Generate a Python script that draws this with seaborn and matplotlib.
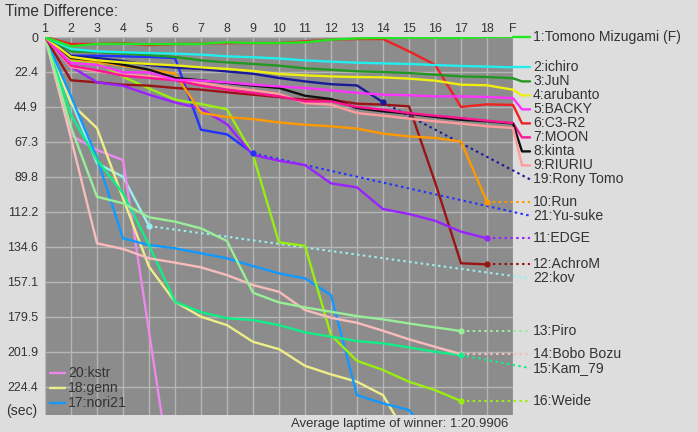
import matplotlib
matplotlib.use("Agg")
import matplotlib.pyplot as plt
from matplotlib.lines import Line2D
import pandas as pd
import seaborn as sns

# ---------------- data ----------------
lap_labels = [str(i) for i in range(1, 19)] + ["F"]
ytick_labels = ["0", "22.4", "44.9", "67.3", "89.8", "112.2", "134.6",
                "157.1", "179.5", "201.9", "224.4"]
ytick_step = 22.438
y_max = 242.56

names = {
    1: "Tomono Mizugami (F)", 2: "ichiro", 3: "JuN", 4: "arubanto", 5: "BACKY",
    6: "C3-R2", 7: "MOON", 8: "kinta", 9: "RIURIU", 10: "Run", 11: "EDGE",
    12: "AchroM", 13: "Piro", 14: "Bobo Bozu", 15: "Kam_79", 16: "Weide",
    17: "nori21", 18: "genn", 19: "Rony Tomo", 20: "kstr", 21: "Yu-suke", 22: "kov",
}
colors = {
    1: "#22e622", 2: "#22eeee", 3: "#229922", 4: "#eeee11", 5: "#ff33ff",
    6: "#ee2222", 7: "#ff1493", 8: "#111111", 9: "#ff9c9c", 10: "#ff9900",
    11: "#9922ff", 12: "#991515", 13: "#99ee99", 14: "#f8bcbc", 15: "#11ee88",
    16: "#99ee11", 17: "#1199ff", 18: "#eeee88", 19: "#1a1a99", 20: "#ee88ee",
    21: "#2233ff", 22: "#99eeee",
}

d1 = [0, 6.0, 4.5, 4.3, 4.6, 4.5, 4.4, 3.4, 3.9, 3.9, 3.4, 1.7, 0.9, 0.6, 0.4, 0.4, 0.6, 0.1, 0]
d2 = [0, 7.7, 9.2, 9.8, 10.3, 10.7, 11.3, 12.4, 13.0, 13.8, 15.0, 15.8, 16.5, 16.9, 17.3, 18.0, 18.6, 19.0, 19.5]
d3 = [0, 9.2, 9.8, 10.7, 11.6, 12.8, 15.0, 16.3, 17.3, 18.4, 20.1, 21.0, 22.0, 22.5, 23.1, 24.2, 25.3, 25.7, 26.5]
d4 = [0, 12.8, 15.0, 16.3, 17.3, 18.2, 19.5, 20.5, 21.8, 23.7, 24.6, 25.3, 25.7, 25.9, 26.7, 28.0, 30.6, 31.0, 33.8]
d5 = [0, 16.7, 17.8, 22.7, 22.7, 27.4, 28.0, 29.1, 30.6, 31.7, 32.7, 34.2, 35.9, 37.0, 37.4, 38.1, 38.1, 38.5, 39.2]
d6 = [0, 4.5, 4.5, 3.9, 5.3, 4.5, 4.3, 3.9, 3.9, 3.9, 2.8, 1.7, 1.3, 1.3, 9.2, 17.8, 44.9, 43.2, 43.6]
d7 = [0, 18.4, 21.4, 24.8, 26.3, 27.8, 31.2, 33.8, 35.9, 38.1, 41.3, 41.3, 44.9, 46.6, 48.8, 50.5, 52.0, 53.7, 55.2]
d8 = [0, 13.5, 15.0, 17.8, 21.0, 26.3, 27.8, 29.5, 31.2, 32.7, 37.7, 39.8, 45.6, 47.7, 49.2, 51.3, 53.1, 54.1, 55.5]
d9 = [0, 19.3, 22.0, 24.2, 25.2, 27.0, 29.5, 32.1, 34.2, 36.5, 42.4, 43.4, 48.8, 50.5, 52.4, 54.1, 55.6, 57.3, 58.4]
d10 = [0, 14.0, 16.0, 18.5, 21.2, 23.4, 48.7, 51.4, 52.7, 54.8, 56.3, 57.3, 58.8, 62.0, 63.8, 64.8, 67.1, 105.7]
d11 = [0, 19.0, 29.1, 31.3, 37.0, 42.0, 46.0, 56.0, 75.7, 79.4, 82.2, 93.9, 96.5, 110.4, 113.6, 117.9, 124.9, 129.2]
d12 = [0, 27.8, 29.1, 30.6, 31.2, 32.7, 33.8, 35.5, 37.0, 38.6, 40.2, 40.2, 42.8, 43.4, 44.5, 93.0, 145.2, 145.9]
d13 = [0, 58.0, 102.5, 106.7, 115.7, 118.5, 122.8, 130.9, 164.1, 170.3, 173.5, 176.3, 179.1, 181.2, 183.8, 186.3, 188.7]
d14 = [0, 65.0, 132.4, 136.0, 142.0, 144.8, 147.8, 152.8, 159.2, 163.5, 175.2, 180.2, 183.4, 188.5, 194.0, 198.8, 203.5]
d15 = [0, 50.0, 78.9, 100.3, 133.5, 169.9, 176.6, 180.5, 181.6, 184.9, 189.5, 192.3, 195.1, 196.6, 199.2, 202.0, 204.1]
d16 = [0, 15.0, 16.3, 25.5, 33.0, 40.2, 43.0, 46.4, 75.7, 131.8, 134.0, 191.3, 207.8, 213.7, 221.2, 226.6, 233.6]
d17 = [0, 38.0, 77.6, 129.2, 133.5, 135.6, 138.8, 142.0, 147.0, 151.7, 154.9, 165.6, 229.8, 235.1, 239.4, 262.0]
d18 = [0, 42.6, 58.5, 103.5, 147.4, 169.9, 179.5, 184.9, 195.6, 200.3, 211.0, 216.5, 221.2, 229.8, 258.0]
d19 = [0, 12.2, 13.5, 15.4, 18.0, 19.6, 20.5, 22.1, 23.6, 26.3, 28.5, 30.3, 31.1, 41.9]
d20 = [0, 63.0, 72.5, 79.0, 189.0, 299.0]
d21 = [0, 12.0, 12.0, 12.4, 12.8, 13.5, 59.5, 62.5, 74.6]
d22 = [0, 41.0, 81.0, 89.7, 121.3]

series = {1: d1, 2: d2, 3: d3, 4: d4, 5: d5, 6: d6, 7: d7, 8: d8, 9: d9, 10: d10,
          11: d11, 12: d12, 13: d13, 14: d14, 15: d15, 16: d16, 17: d17, 18: d18,
          19: d19, 20: d20, 21: d21, 22: d22}

label_order = [1, 2, 3, 4, 5, 6, 7, 8, 9, 19, 10, 21, 11, 12, 22, 13, 14, 15, 16]
legend_order = [20, 18, 17]
avg_text = "Average laptime of winner: 1:20.9906"

# ---------------- style ----------------
sns.set_style("white")
TXT = "#333333"
plt.rcParams["font.family"] = ["Liberation Sans", "DejaVu Sans"]
FS = 10.1
FS_TICK = 8.9

W, H = 698, 432
fig = plt.figure(figsize=(W / 100, H / 100), dpi=100, facecolor="#dddddd")
L, R, T, B = 45, 513, 37, 415
ax = fig.add_axes([L / W, 1 - B / H, (R - L) / W, (B - T) / H])
ax.set_facecolor("#8c8c8c")

n_laps = len(lap_labels)
ax.set_xlim(1, n_laps)
ax.set_ylim(y_max, 0)
ax.set_xticks(range(1, n_laps + 1))
ax.set_xticklabels(lap_labels)
yt = [i * ytick_step for i in range(len(ytick_labels))]
ax.set_yticks(yt)
ax.set_yticklabels(ytick_labels)
ax.xaxis.tick_top()
ax.tick_params(axis="both", length=0, labelsize=FS_TICK, labelcolor=TXT)
ax.tick_params(axis="y", pad=5.0)
ax.tick_params(axis="x", pad=1.8)
ax.grid(True, color="#b6b6b6", lw=1.0)
ax.set_axisbelow(True)
for s in ax.spines.values():
    s.set_visible(False)

# draw lines (leader last so it is on top)
for d in sorted(series, reverse=True):
    v = series[d]
    df = pd.DataFrame({"lap": list(range(1, len(v) + 1)), "diff": v})
    sns.lineplot(data=df, x="lap", y="diff", color=colors[d], lw=1.7, ax=ax,
                 legend=False, errorbar=None, zorder=3 + (23 - d) * 0.01)
ax.set_xlabel("")
ax.set_ylabel("")

# label placement (push down to keep spacing)
px_per_unit = (B - T) / y_max
gap = 14 / px_per_unit
xF = n_laps
x_bend = xF + 9 / 26
x_end = xF + 17 / 26
x_text = xF + 20 / 26
prev = None
for d in label_order:
    v = series[d]
    ideal = v[-1]
    pos = ideal if prev is None else max(ideal, prev + gap)
    prev = pos
    last_x = len(v)
    if last_x == n_laps:
        ax.plot([xF, x_bend, x_end], [ideal, pos, pos], color=colors[d], lw=1.7,
                clip_on=False, zorder=3)
    else:
        ax.plot([last_x, x_end], [ideal, pos], color=colors[d], lw=1.5,
                ls=(0, (1.2, 1.6)), clip_on=False, zorder=3)
        ax.plot([last_x], [ideal], marker="o", ms=3.5, color=colors[d],
                clip_on=False, zorder=4)
    ax.text(x_text, pos, f"{d}:{names[d]}", fontsize=FS, color=TXT,
            va="center", ha="left", clip_on=False)

# bottom-left legend for drivers that run off the chart
for i, d in enumerate(legend_order):
    yy = 1 - (372.7 + i * 15.3) / H
    fig.add_artist(Line2D([50 / W, 65 / W], [yy, yy], color=colors[d], lw=1.7))
    fig.text(68 / W, yy, f"{d}:{names[d]}", fontsize=FS, color=TXT,
             va="center", ha="left")

fig.text(5 / W, 1 - 11 / H, "Time Difference:", fontsize=11.2, color=TXT,
         va="center", ha="left")
fig.text(37.5 / W, 1 - 410.5 / H, "(sec)", fontsize=FS, color=TXT,
         va="center", ha="right")
fig.text(508 / W, 1 - 423.5 / H, avg_text, fontsize=9.45, color=TXT,
         va="center", ha="right")

fig.savefig("out.png", dpi=100, facecolor=fig.get_facecolor())
